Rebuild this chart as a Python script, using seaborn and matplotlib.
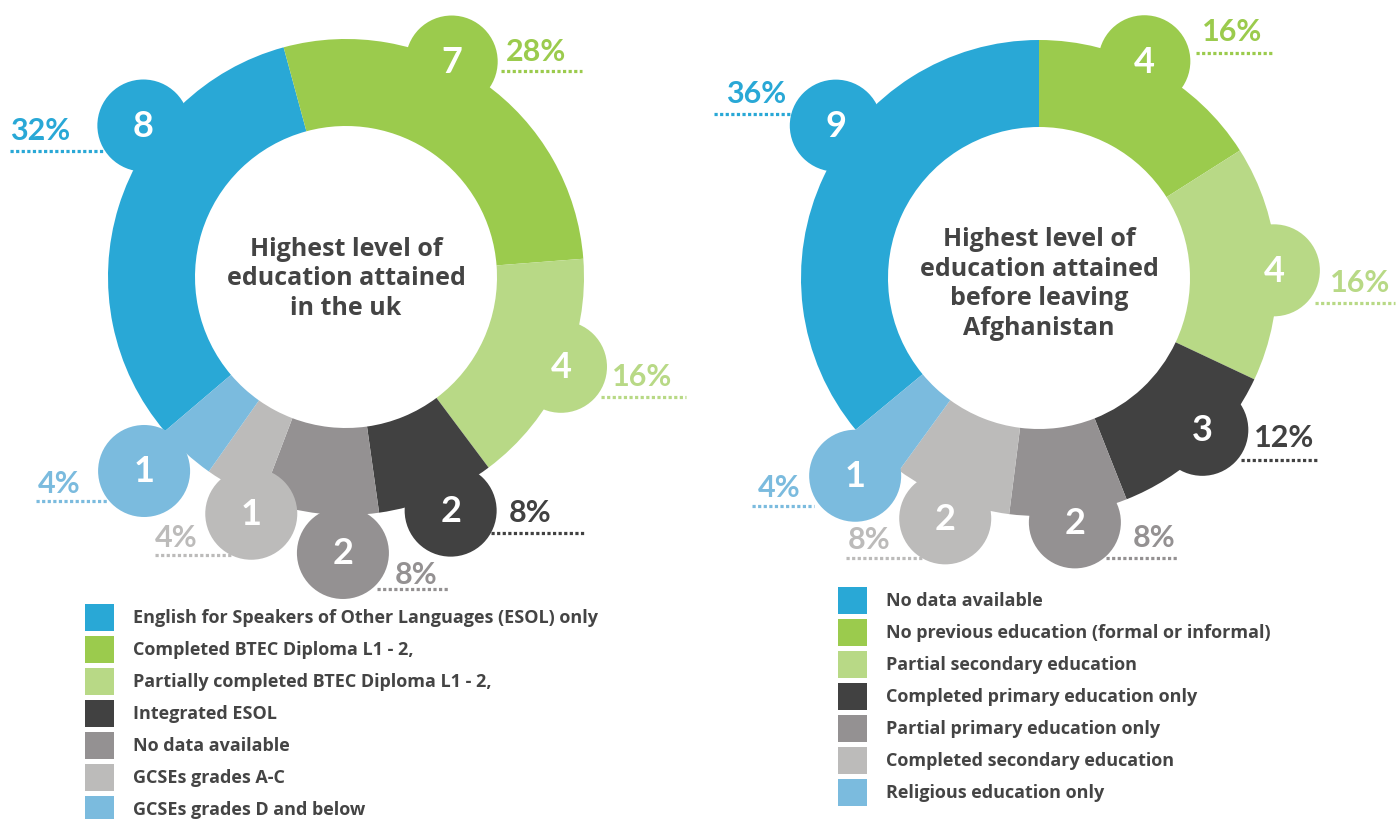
import matplotlib
matplotlib.use("Agg")
import matplotlib.pyplot as plt
from matplotlib.patches import Circle, Rectangle
import seaborn as sns
import numpy as np

uk_labels = [
    "English for Speakers of Other Languages (ESOL) only",
    "Completed BTEC Diploma L1 - 2,",
    "Partially completed BTEC Diploma L1 - 2,",
    "Integrated ESOL",
    "No data available",
    "GCSEs grades A-C",
    "GCSEs grades D and below",
]
uk_counts = [8, 7, 4, 2, 2, 1, 1]
uk_pct = [32, 28, 16, 8, 8, 4, 4]
uk_title = "Highest level of\neducation attained\nin the uk"

afg_labels = [
    "No data available",
    "No previous education (formal or informal)",
    "Partial secondary education",
    "Completed primary education only",
    "Partial primary education only",
    "Completed secondary education",
    "Religious education only",
]
afg_counts = [9, 4, 4, 3, 2, 2, 1]
afg_pct = [36, 16, 16, 12, 8, 8, 4]
afg_title = "Highest level of\neducation attained\nbefore leaving\nAfghanistan"

sns.set_theme(style="white")
plt.rcParams["font.family"] = ["Lato", "DejaVu Sans"]

palette = sns.color_palette(["#29a8d6", "#9bcb4d", "#b8d986", "#414141",
                             "#949192", "#bcbbba", "#7bbbde"])
TEXT = "#444444"
WORDS = ["Open Sans", "DejaVu Sans"]
R_OUT, R_IN, R_BADGE = 238, 151, 46

# layout (pixel units, y pointing down)
uk_layout = dict(
    center=(346, 278), start=229.6, title_dy=1,
    badge_frac=[0.67, 0.41, 0.47, 0.44, 0.30, 0.07, 0.76],
    badge_r=[253, 240, 233, 256, 276, 255, 280],
    text_off=[(-133, 4), (54, -11), (51, 9), (58, 1), (52, 21), (-96, 23), (-106, 12)],
    line_off=[(-133, -38, 25), (49, 130, 9), (40, 125, 30), (40, 134, 22),
              (34, 106, 36), (-96, -18, 41), (-108, -36, 30)],
    legend=(85, 605, 133),
)
afg_layout = dict(
    center=(1039, 279), start=230.4, title_dy=5,
    badge_frac=[0.59, 0.45, 0.53, 0.41, 0.46, 0.49, 0.48],
    badge_r=[254, 241, 235, 223, 247, 258, 270],
    text_off=[(-110, -33), (58, -30), (56, 12), (52, 7), (58, 15), (-97, 21), (-97, 11)],
    line_off=[(-122, -41, -12), (52, 130, -8), (41, 121, 33), (39, 117, 30),
              (31, 103, 36), (-99, -21, 40), (-103, -41, 30)],
    legend=(838, 588, 886),
)


def draw_donut(ax, counts, pcts, title, labels, layout):
    cx, cy = layout["center"]
    # y axis is inverted, so data angle = compass angle - 90 and ccw in data = clockwise on screen
    wedges, _ = ax.pie(counts, colors=palette, startangle=layout["start"] - 90,
                       counterclock=True, radius=R_OUT, center=(cx, cy), frame=True,
                       wedgeprops=dict(width=R_OUT - R_IN, linewidth=0))
    for i, w in enumerate(wedges):
        th = np.deg2rad(w.theta1 + layout["badge_frac"][i] * (w.theta2 - w.theta1))
        bx = cx + layout["badge_r"][i] * np.cos(th)
        by = cy + layout["badge_r"][i] * np.sin(th)
        col = palette[i]
        x0, x1, ly = layout["line_off"][i]
        ax.plot([bx + x0, bx + x1], [by + ly, by + ly], color=col, lw=2.3,
                linestyle=(0, (1.0, 0.75)), solid_capstyle="butt", zorder=2)
        ax.add_patch(Circle((bx, by), R_BADGE, facecolor=col, edgecolor="none", zorder=3))
        ax.text(bx, by, str(counts[i]), color="white", fontsize=26, fontweight="bold",
                ha="center", va="center", zorder=4)
        dx, dy = layout["text_off"][i]
        ax.text(bx + dx, by + dy, f"{pcts[i]}%", color=col, fontsize=22, fontweight="bold",
                ha="left", va="center", zorder=4)
    ax.text(cx, cy + layout["title_dy"], title, color=TEXT, fontsize=18, fontweight="bold",
            family=WORDS, ha="center", va="center", linespacing=1.24, zorder=4)

    # legend: coloured squares with labels, one row per category
    lx, ly0, tx = layout["legend"]
    for i, lab in enumerate(labels):
        top = ly0 + 32 * i
        ax.add_patch(Rectangle((lx, top), 29, 27, facecolor=palette[i], edgecolor="none"))
        ax.text(tx, top + 13.5, lab, color=TEXT, fontsize=13, fontweight="bold",
                family=WORDS, ha="left", va="center")


fig = plt.figure(figsize=(14, 8.2), dpi=100)
ax = fig.add_axes([0, 0, 1, 1])
draw_donut(ax, uk_counts, uk_pct, uk_title, uk_labels, uk_layout)
draw_donut(ax, afg_counts, afg_pct, afg_title, afg_labels, afg_layout)
ax.set_xlim(0, 1400)
ax.set_ylim(820, 0)
ax.set_aspect("equal")
ax.axis("off")

fig.savefig("out.png", dpi=100, facecolor="white")
